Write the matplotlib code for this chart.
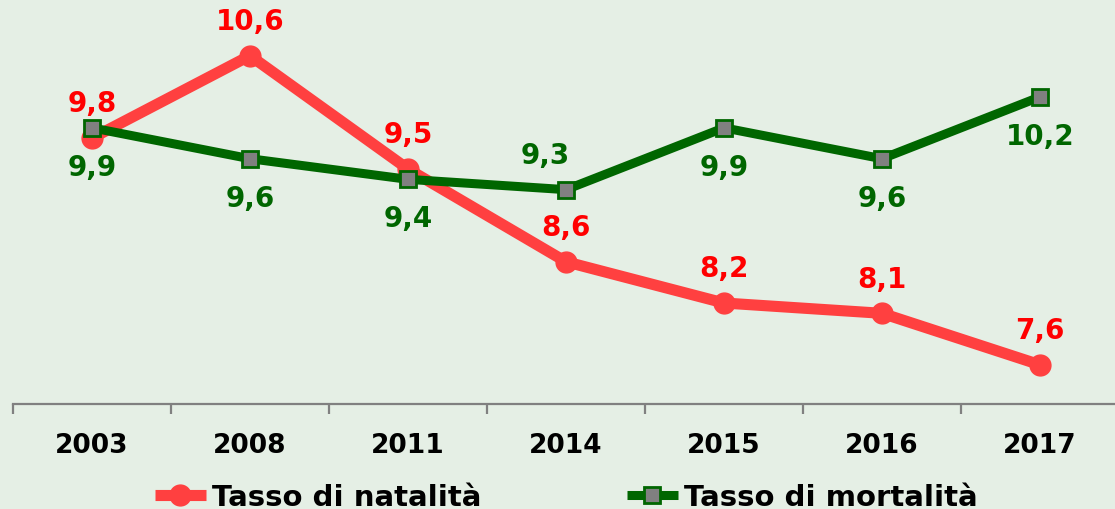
import matplotlib.pyplot as plt
import numpy as np

# dati
anni = ['2003', '2008', '2011', '2014', '2015', '2016', '2017']
natalita = [9.8, 10.6, 9.5, 8.6, 8.2, 8.1, 7.6]
mortalita = [9.9, 9.6, 9.4, 9.3, 9.9, 9.6, 10.2]

# posizione etichette mortalità: sotto il punto, tranne 2014 (sopra)
pos_mortalita = ['below', 'below', 'below', 'above', 'below', 'below', 'below']

sfondo = '#E5EFE5'
rosso_linea = '#FF4040'
rosso_testo = '#FF0000'
verde = '#006600'

plt.rcParams['font.family'] = ['DejaVu Sans']

fig = plt.figure(figsize=(11.15, 5.10), dpi=100, facecolor=sfondo)
ax = fig.add_axes([13 / 1115, 105 / 510, 1106 / 1115, 405 / 510])
ax.set_facecolor(sfondo)

x = np.arange(len(anni))

ax.plot(x, natalita, color=rosso_linea, lw=8, marker='o', markersize=15,
        markerfacecolor=rosso_linea, markeredgecolor=rosso_linea,
        label='Tasso di natalità', solid_capstyle='butt', zorder=2)
ax.plot(x, mortalita, color=verde, lw=6.5, marker='s', markersize=12,
        markerfacecolor='#808080', markeredgecolor=verde, markeredgewidth=2,
        label='Tasso di mortalità', solid_capstyle='butt', zorder=3)

def fmt(v):
    return f'{v:.1f}'.replace('.', ',')

for i, v in enumerate(natalita):
    ax.annotate(fmt(v), (x[i], v), xytext=(0, 25), textcoords='offset points',
                ha='center', va='center', color=rosso_testo,
                fontsize=20, fontweight='bold')

for i, v in enumerate(mortalita):
    if pos_mortalita[i] == 'above':
        off = (-15, 25)
    else:
        off = (0, -28)
    ax.annotate(fmt(v), (x[i], v), xytext=off, textcoords='offset points',
                ha='center', va='center', color=verde,
                fontsize=20, fontweight='bold')

ax.set_xlim(-0.5, len(anni) - 0.5)
ax.set_ylim(7.22, 11.15)

for s in ['top', 'left', 'right']:
    ax.spines[s].set_visible(False)
ax.spines['bottom'].set_color('#808080')
ax.spines['bottom'].set_linewidth(1.6)

ax.set_yticks([])
ax.set_xticks(x)
ax.set_xticklabels(anni, fontsize=19, fontweight='bold')
ax.tick_params(axis='x', which='major', length=0, pad=20)
ax.set_xticks(np.arange(-0.5, len(anni)), minor=True)
ax.tick_params(axis='x', which='minor', length=7, width=1.6, color='#808080')

fig.legend(loc='center', bbox_to_anchor=(566 / 1115, 12 / 510), ncol=2,
           frameon=False, prop={'size': 21, 'weight': 'bold'},
           handlelength=1.75, handletextpad=0.2, columnspacing=5.0)

fig.savefig('out.png', dpi=100, facecolor=sfondo)
